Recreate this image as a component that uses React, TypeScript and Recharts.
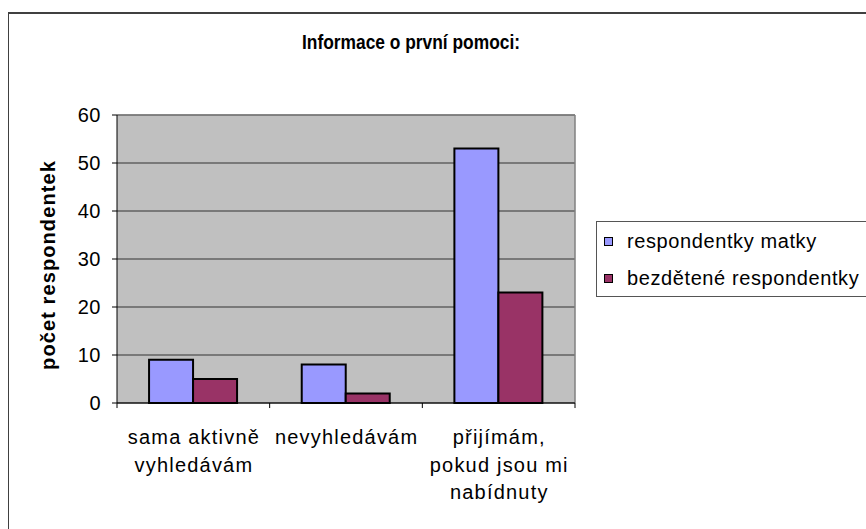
import React from "react";
import { BarChart, Bar, XAxis, YAxis, CartesianGrid, Legend, ReferenceLine } from "recharts";

// Survey answers: where respondents get first-aid information
const categories = ["sama aktivně\nvyhledávám", "nevyhledávám", "přijímám,\npokud jsou mi\nnabídnuty"];
const matky = [9, 8, 53];
const bezdetene = [5, 2, 23];
const yTicks = [0, 10, 20, 30, 40, 50, 60];

const seriesMatky = "respondentky matky";
const seriesBezdetene = "bezdětené respondentky";
const seriesOrder = [seriesMatky, seriesBezdetene];
const chartTitle = "Informace o první pomoci:";
const yTitle = "počet respondentek";

const data = categories.map((name, i) => ({
  name,
  matky: matky[i],
  bezdetene: bezdetene[i],
}));

// category boundary tick marks hang just below the zero line
const TICK_DEPTH = -1.05;
const boundaryTicks: { cat: string; pos: "start" | "end" }[] = [
  ...categories.map((cat) => ({ cat, pos: "start" as const })),
  { cat: categories[categories.length - 1], pos: "end" as const },
];

const FONT = "'Liberation Sans', Arial, sans-serif";
const W = 866;
const H = 529;

const CategoryTick = (props: any) => {
  const { x, y, payload } = props;
  const lines = String(payload.value).split("\n");
  return (
    <text x={x + 0.6} y={y} textAnchor="middle" fontSize={20} fontFamily={FONT} letterSpacing={1.2} fill="#000">
      {lines.map((line, i) => (
        <tspan key={i} x={x + 0.6} dy={i === 0 ? 41 : 27.5}>
          {line}
        </tspan>
      ))}
    </text>
  );
};

const LegendBox = (props: any) => {
  const items = [...(props.payload || [])].sort(
    (a: any, b: any) => seriesOrder.indexOf(a.value) - seriesOrder.indexOf(b.value)
  );
  return (
    <div
      style={{
        position: "relative",
        boxSizing: "border-box",
        width: 270,
        height: 76,
        borderTop: "1px solid #555",
        borderLeft: "1px solid #555",
        borderBottom: "1px solid #555",
        background: "#fff",
        fontFamily: FONT,
        fontSize: 20,
        letterSpacing: 0.6,
        color: "#000",
        whiteSpace: "nowrap",
        overflow: "hidden",
      }}
    >
      {items.map((entry: any, i: number) => (
        <div
          key={i}
          style={{ position: "absolute", left: 0, top: (i === 0 ? 20 : 57) - 12, height: 23, lineHeight: "23px", width: 270 }}
        >
          <span
            style={{
              position: "absolute",
              left: 7,
              top: 7,
              width: 9,
              height: 9,
              boxSizing: "border-box",
              border: "1px solid #000",
              background: entry.color,
            }}
          />
          <span style={{ position: "absolute", left: 30, top: 0 }}>{entry.value}</span>
        </div>
      ))}
    </div>
  );
};

const YTitle = (props: any) => {
  const vb = props.viewBox || { x: 20, y: 115, width: 97, height: 288 };
  const x = vb.x + 35;
  const y = vb.y + vb.height / 2 + 6;
  return (
    <text
      x={x}
      y={y}
      transform={`rotate(-90, ${x}, ${y})`}
      textAnchor="middle"
      fontSize={20}
      fontWeight="bold"
      fontFamily={FONT}
      letterSpacing={1.1}
      fill="#000"
    >
      {yTitle}
    </text>
  );
};

export default function App() {
  return (
    <div style={{ position: "absolute", left: 0, top: 0, width: W, height: H, overflow: "hidden", background: "#fff" }}>
      <div
        style={{
          position: "absolute",
          left: 8,
          top: 12,
          width: W - 8,
          height: H - 12,
          boxSizing: "border-box",
          borderTop: "2px solid #404040",
          borderLeft: "1px solid #404040",
        }}
      />
      <div style={{ position: "absolute", left: 0, top: 0 }}>
        <BarChart
          width={W}
          height={H}
          data={data}
          margin={{ top: 115, right: 291, bottom: 125, left: 20 }}
          barGap={0}
          barCategoryGap="21%"
        >
          <text
            x={411}
            y={49}
            textAnchor="middle"
            fontSize={20}
            fontWeight="bold"
            fontFamily={FONT}
            textLength={218}
            lengthAdjust="spacingAndGlyphs"
            fill="#000"
          >
            {chartTitle}
          </text>
          <CartesianGrid vertical={false} stroke="#333" fill="#C0C0C0" fillOpacity={1} />
          <XAxis
            dataKey="name"
            height={1}
            interval={0}
            axisLine={{ stroke: "#000" }}
            tickLine={false}
            tickSize={0}
            tickMargin={0}
            tick={<CategoryTick />}
          />
          <YAxis
            domain={[0, 60]}
            ticks={yTicks}
            width={97}
            tickSize={5}
            tickMargin={11}
            tickLine={{ stroke: "#000" }}
            axisLine={{ stroke: "#000" }}
            tick={{ fill: "#000", fontSize: 20, fontFamily: FONT, letterSpacing: 0.5 }}
            label={{ content: <YTitle /> }}
          />
          <ReferenceLine x={categories[categories.length - 1]} position="end" stroke="#808080" strokeWidth={1.5} />
          <ReferenceLine y={60} stroke="#808080" strokeWidth={1.5} />
          {boundaryTicks.map((t, i) => (
            <ReferenceLine
              key={`edge-${i}`}
              position={t.pos}
              ifOverflow="visible"
              stroke="#000"
              strokeWidth={1}
              segment={[
                { x: t.cat, y: 0 },
                { x: t.cat, y: TICK_DEPTH },
              ]}
            />
          ))}
          <Legend
            layout="vertical"
            align="center"
            verticalAlign="middle"
            wrapperStyle={{ left: 596, top: 221, width: 270, height: 76 }}
            content={<LegendBox />}
          />
          <Bar dataKey="matky" name={seriesMatky} fill="#9999FF" stroke="#000" strokeWidth={2} isAnimationActive={false} />
          <Bar dataKey="bezdetene" name={seriesBezdetene} fill="#993366" stroke="#000" strokeWidth={2} isAnimationActive={false} />
        </BarChart>
      </div>
    </div>
  );
}
